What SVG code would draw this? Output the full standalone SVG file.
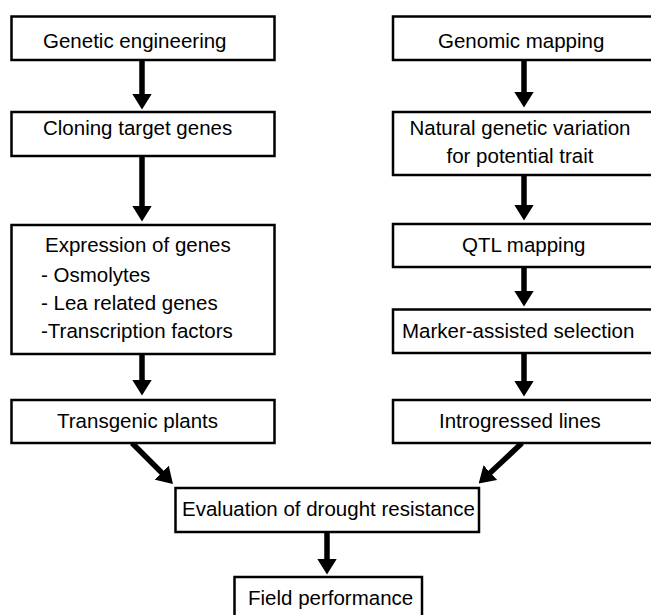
<svg xmlns="http://www.w3.org/2000/svg" width="651" height="615" viewBox="0 0 651 615">
<style>
rect{fill:#fff;stroke:#000;stroke-width:2.5}
text{font-family:"Liberation Sans",Arial,sans-serif;font-size:20.5px;fill:#000}
.c{text-anchor:middle}
.a{stroke:#000;stroke-width:5.5;fill:none;marker-end:url(#ah)}
</style>
<defs>
<marker id="ah" markerUnits="userSpaceOnUse" markerWidth="16" markerHeight="20" viewBox="0 0 16 20" refX="0.5" refY="10" orient="auto">
<path d="M0,0 L16,10 L0,20 z" fill="#000"/>
</marker>
</defs>
<rect x="-10" y="-10" width="700" height="700" style="stroke:none"/>
<g id="connectors">
<line class="a" x1="142" y1="60" x2="142" y2="94"/>
<line class="a" x1="142" y1="156" x2="142" y2="206"/>
<line class="a" x1="142" y1="354" x2="142" y2="380"/>
<line class="a" x1="524" y1="60" x2="524" y2="92"/>
<line class="a" x1="524" y1="175" x2="524" y2="205"/>
<line class="a" x1="524" y1="267" x2="524" y2="291"/>
<line class="a" x1="524" y1="353" x2="524" y2="381"/>
<line class="a" x1="132" y1="443" x2="162" y2="473"/>
<line class="a" x1="522" y1="443" x2="490" y2="473"/>
<line class="a" x1="327" y1="532" x2="327" y2="559"/>
</g>
<g id="genetic-engineering"><rect x="11.5" y="16.5" width="263" height="43.5"/><text x="43" y="48">Genetic engineering</text></g>
<g id="cloning"><rect x="11.5" y="112" width="263" height="44"/><text x="43" y="135">Cloning target genes</text></g>
<g id="expression"><rect x="11.5" y="225" width="263" height="129"/>
<text x="45" y="252">Expression of genes</text>
<text x="41" y="282">- Osmolytes</text>
<text x="41" y="310">- Lea related genes</text>
<text x="41" y="338">-Transcription factors</text></g>
<g id="transgenic"><rect x="11.5" y="400" width="263" height="43"/><text x="57" y="428">Transgenic plants</text></g>
<g id="genomic-mapping"><rect x="393" y="16.5" width="270" height="43.5"/><text x="438" y="48">Genomic mapping</text></g>
<g id="natural-variation"><rect x="393" y="112" width="270" height="63"/><text class="c" x="520" y="135">Natural genetic variation</text><text class="c" x="520" y="163">for potential trait</text></g>
<g id="qtl"><rect x="393" y="224" width="270" height="43"/><text x="462" y="252">QTL mapping</text></g>
<g id="mas"><rect x="393" y="309.5" width="270" height="43.5"/><text x="402" y="338">Marker-assisted selection</text></g>
<g id="introgressed"><rect x="393" y="400" width="270" height="43"/><text x="439" y="428">Introgressed lines</text></g>
<g id="evaluation"><rect x="175.5" y="488" width="303.5" height="44"/><text x="182" y="516">Evaluation of drought resistance</text></g>
<g id="field"><rect x="234.5" y="577" width="187.5" height="50"/><text x="248" y="605">Field performance</text></g>
</svg>
